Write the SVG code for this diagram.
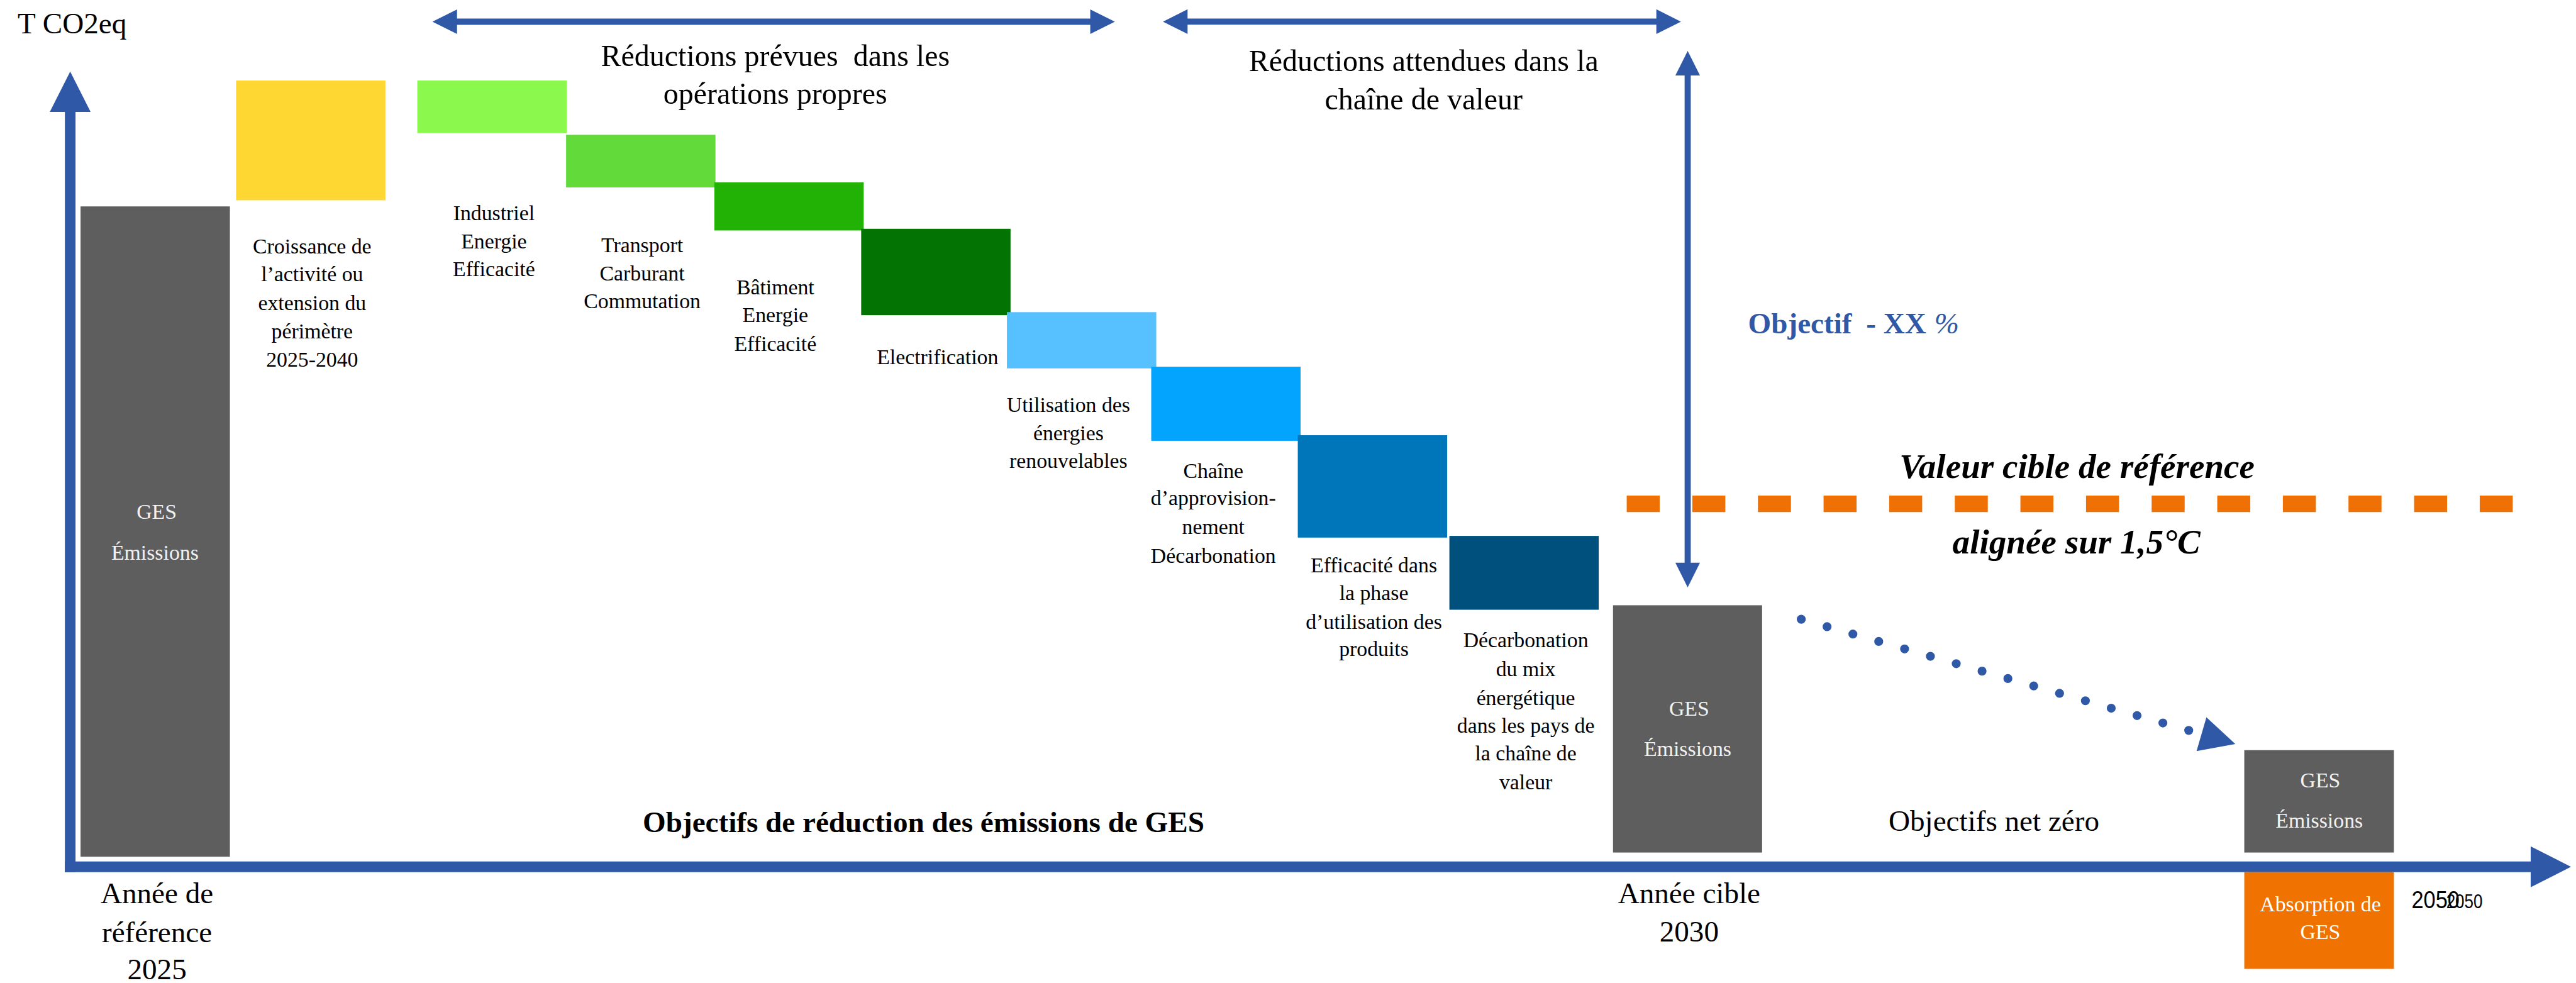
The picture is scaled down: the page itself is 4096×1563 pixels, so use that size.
<svg xmlns="http://www.w3.org/2000/svg" width="4096" height="1563" viewBox="0 0 4096 1563">
  <defs>
    <style>
      text { font-family: "Liberation Serif", "Times New Roman", serif; fill: #000; }
      .lbl { font-size: 38px; text-anchor: middle; }
      .ttl { font-size: 54px; text-anchor: middle; }
      .ax { font-size: 53px; text-anchor: middle; }
      .inbox { font-size: 38px; fill: #F2F2F2; text-anchor: middle; }
      .white { font-size: 38px; fill: #FFFFFF; text-anchor: middle; }
      .tgt { font-size: 62px; font-weight: bold; font-style: italic; text-anchor: middle; }
      .line { fill: none; stroke: #2F59A7; }
      .yr { font-family: "Liberation Sans", Arial, sans-serif; }
    </style>
    <marker id="head" markerUnits="userSpaceOnUse" markerWidth="46" markerHeight="46" refX="1" refY="22" orient="auto-start-reverse" overflow="visible">
      <path d="M0,0 L44,22 L0,44 Z" fill="#2F59A7"/>
    </marker>
    <marker id="axisHead" markerUnits="userSpaceOnUse" markerWidth="74" markerHeight="74" refX="1" refY="36.5" orient="auto" overflow="visible">
      <path d="M0,0 L72,36.5 L0,73 Z" fill="#2F59A7"/>
    </marker>
  </defs>

  <rect width="4096" height="1563" fill="#FFFFFF"/>

  <g transform="scale(0.889468)">

    <!-- axes, spans and trajectory -->
    <g id="connectors">
      <path class="line" d="M125.5,1559 V199" stroke-width="19" marker-end="url(#axisHead)"/>
      <path class="line" d="M116,1549.5 H4525" stroke-width="19" marker-end="url(#axisHead)"/>
      <path class="line" d="M816,38.8 H1950" stroke-width="11" marker-start="url(#head)" marker-end="url(#head)"/>
      <path class="line" d="M2122,38.7 H2962" stroke-width="11" marker-start="url(#head)" marker-end="url(#head)"/>
      <path class="line" d="M3017,134 V1007" stroke-width="11" marker-start="url(#head)" marker-end="url(#head)"/>
      <path class="line" d="M3220,1107 L3912.7,1305.7" stroke-width="16" stroke-linecap="round" stroke-dasharray="0 48.04"/>
      <polygon points="3944.3,1282.3 3996,1330 3926.7,1342.7" fill="#2F59A7"/>
      <path d="M2908,900.8 H4492.5" fill="none" stroke="#EF7004" stroke-width="29.5" stroke-dasharray="59 58.3"/>
    </g>

    <text x="31.6" y="59.3" style="font-size:53px">T CO2eq</text>

    <g id="span-own-ops">
      <text class="ttl" x="1386" y="118">Réductions prévues&#160; dans les</text>
      <text class="ttl" x="1386" y="185">opérations propres</text>
    </g>
    <g id="span-value-chain">
      <text class="ttl" x="2545" y="127">Réductions attendues dans la</text>
      <text class="ttl" x="2545" y="196">chaîne de valeur</text>
    </g>

    <g id="baseline-2025">
      <rect x="144" y="369" width="267" height="1162.5" fill="#5E5E5E"/>
      <text class="inbox" x="280" y="928">GES</text>
      <text class="inbox" x="277" y="1001">Émissions</text>
    </g>

    <g id="growth">
      <rect x="422" y="144" width="267" height="214" fill="#FFD732"/>
      <text class="lbl" x="558" y="453">Croissance de</text>
      <text class="lbl" x="558" y="503">l’activité ou</text>
      <text class="lbl" x="558" y="554">extension du</text>
      <text class="lbl" x="558" y="605">périmètre</text>
      <text class="lbl" x="558" y="655">2025-2040</text>
    </g>

    <g id="industry">
      <rect x="746" y="144" width="267" height="94" fill="#8AF84C"/>
      <text class="lbl" x="883" y="393">Industriel</text>
      <text class="lbl" x="883" y="444">Energie</text>
      <text class="lbl" x="883" y="493">Efficacité</text>
    </g>

    <g id="transport">
      <rect x="1012" y="241" width="267" height="94" fill="#62DA3A"/>
      <text class="lbl" x="1148" y="451">Transport</text>
      <text class="lbl" x="1148" y="501">Carburant</text>
      <text class="lbl" x="1148" y="551">Commutation</text>
    </g>

    <g id="buildings">
      <rect x="1277" y="326" width="267" height="86" fill="#21B205"/>
      <text class="lbl" x="1386" y="526">Bâtiment</text>
      <text class="lbl" x="1386" y="576">Energie</text>
      <text class="lbl" x="1386" y="627">Efficacité</text>
    </g>

    <g id="electrification">
      <rect x="1539.5" y="409" width="267" height="154.4" fill="#037403"/>
      <text class="lbl" x="1676" y="651">Electrification</text>
    </g>

    <g id="renewables">
      <rect x="1800" y="558" width="267" height="100.5" fill="#57C0FE"/>
      <text class="lbl" x="1910" y="736.6">Utilisation des</text>
      <text class="lbl" x="1910" y="786.5">énergies</text>
      <text class="lbl" x="1910" y="837">renouvelables</text>
    </g>

    <g id="supply-chain">
      <rect x="2058" y="655.5" width="267" height="132.5" fill="#02A4FE"/>
      <text class="lbl" x="2169" y="854">Chaîne</text>
      <text class="lbl" x="2169" y="903">d’approvision-</text>
      <text class="lbl" x="2169" y="954.7">nement</text>
      <text class="lbl" x="2169" y="1006">Décarbonation</text>
    </g>

    <g id="use-phase">
      <rect x="2320" y="778" width="267" height="183" fill="#0076BA"/>
      <text class="lbl" x="2456" y="1023.6">Efficacité dans</text>
      <text class="lbl" x="2456" y="1072">la phase</text>
      <text class="lbl" x="2456" y="1124">d’utilisation des</text>
      <text class="lbl" x="2456" y="1173">produits</text>
    </g>

    <g id="energy-mix">
      <rect x="2591" y="958" width="267" height="132" fill="#00507E"/>
      <text class="lbl" x="2727.6" y="1157">Décarbonation</text>
      <text class="lbl" x="2727.6" y="1209">du mix</text>
      <text class="lbl" x="2727.6" y="1260.7">énergétique</text>
      <text class="lbl" x="2727.6" y="1309.5">dans les pays de</text>
      <text class="lbl" x="2727.6" y="1359.4">la chaîne de</text>
      <text class="lbl" x="2727.6" y="1411">valeur</text>
    </g>

    <g id="target-2030">
      <rect x="2883.5" y="1082" width="266.5" height="442" fill="#5E5E5E"/>
      <text class="inbox" x="3019.6" y="1279">GES</text>
      <text class="inbox" x="3017" y="1351">Émissions</text>
    </g>

    <g id="objective">
      <text x="3125" y="596" style="font-size:53px;fill:#2F59A7"><tspan font-weight="bold">Objectif</tspan><tspan x="3336" font-weight="bold">- XX</tspan><tspan x="3458" font-style="italic">%</tspan></text>
    </g>

    <g id="reference-value">
      <text class="tgt" x="3713" y="854">Valeur cible de référence</text>
      <text class="tgt" x="3712" y="989">alignée sur 1,5°C</text>
    </g>

    <g id="netzero-2050">
      <rect x="4012" y="1341" width="267.5" height="183" fill="#5E5E5E"/>
      <text class="inbox" x="4148" y="1408">GES</text>
      <text class="inbox" x="4146" y="1480">Émissions</text>
    </g>

    <g id="absorption">
      <rect x="4012" y="1559" width="267.5" height="173" fill="#F07302"/>
      <text class="white" x="4148" y="1629">Absorption de</text>
      <text class="white" x="4148" y="1678">GES</text>
    </g>

    <g id="axis-labels">
      <text class="ax" x="280.6" y="1615">Année de</text>
      <text class="ax" x="280.6" y="1684.7">référence</text>
      <text class="ax" x="280.6" y="1750">2025</text>
      <text class="ax" x="3019.6" y="1614">Année cible</text>
      <text class="ax" x="3019.6" y="1683">2030</text>
      <text class="yr" x="4311" y="1624" style="font-size:43px" textLength="86" lengthAdjust="spacingAndGlyphs">2050</text>
      <text class="yr" x="4373" y="1624" style="font-size:36px" textLength="65" lengthAdjust="spacingAndGlyphs">2050</text>
      <text class="ax" x="1651" y="1487" font-weight="bold">Objectifs de réduction des émissions de GES</text>
      <text class="ax" x="3564.5" y="1485">Objectifs net zéro</text>
    </g>

  </g>
</svg>
